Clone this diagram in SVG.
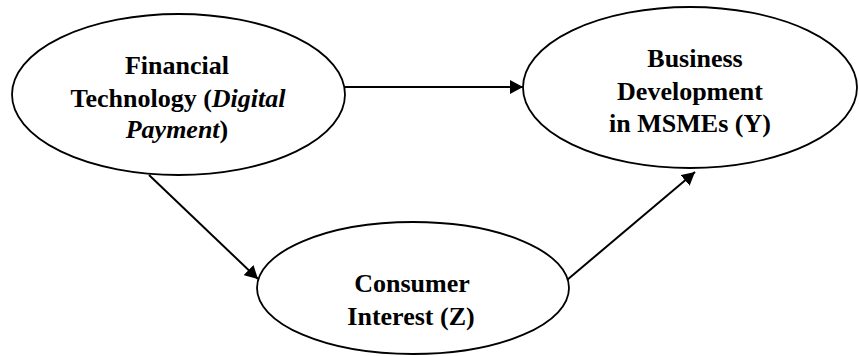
<svg xmlns="http://www.w3.org/2000/svg" width="859" height="356" viewBox="0 0 859 356">
<style>
.node{fill:#fff;stroke:#000;stroke-width:1.8}
.t{font-family:"Liberation Serif","Times New Roman",serif;font-weight:bold;font-size:26px;fill:#000;text-anchor:middle}
.i{font-style:italic}
.c{stroke:#000;stroke-width:2;fill:none;marker-end:url(#ah)}
</style>
<defs>
<marker id="ah" viewBox="0 0 13 14" refX="13" refY="7" markerWidth="13" markerHeight="14" markerUnits="userSpaceOnUse" orient="auto">
<path d="M0,0 L13,7 L0,14 Z" fill="#000"/>
</marker>
</defs>
<rect width="859" height="356" fill="#fff"/>
<g id="connectors">
<line class="c" x1="345" y1="87" x2="523" y2="87"/>
<line class="c" x1="149" y1="175" x2="258" y2="279"/>
<line class="c" x1="567" y1="280" x2="695" y2="172"/>
</g>
<g id="fintech">
<ellipse class="node" cx="178.5" cy="94.5" rx="166.5" ry="80.5"/>
<text class="t" x="177" y="74">Financial</text>
<text class="t" x="178" y="107">Technology (<tspan class="i">Digital</tspan></text>
<text class="t" x="177" y="138"><tspan class="i">Payment</tspan>)</text>
</g>
<g id="business">
<ellipse class="node" cx="690" cy="87.5" rx="167" ry="80.5"/>
<text class="t" x="695" y="67">Business</text>
<text class="t" x="690" y="100">Development</text>
<text class="t" x="690" y="132">in MSMEs (Y)</text>
</g>
<g id="consumer">
<ellipse class="node" cx="413" cy="288" rx="156" ry="66"/>
<text class="t" x="412" y="292">Consumer</text>
<text class="t" x="411" y="325">Interest (Z)</text>
</g>
</svg>
